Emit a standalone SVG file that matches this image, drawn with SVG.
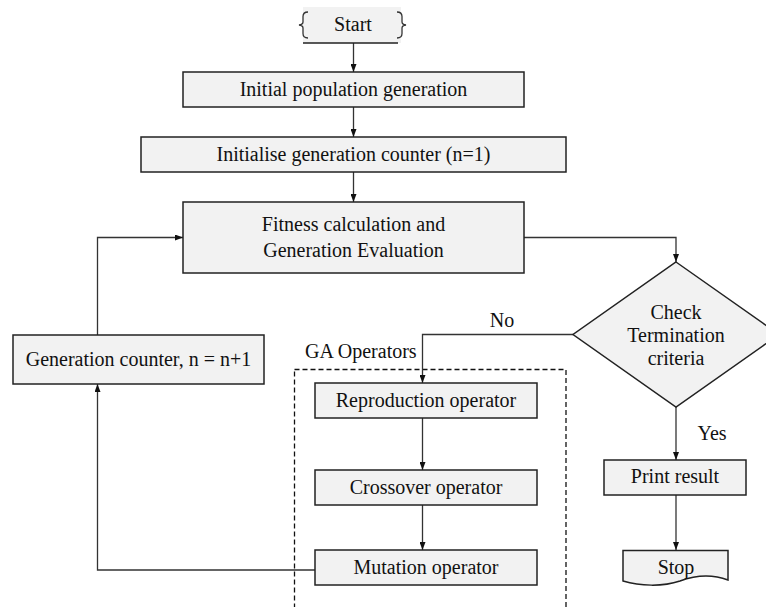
<svg xmlns="http://www.w3.org/2000/svg" width="766" height="607" viewBox="0 0 766 607">
<defs>
<marker id="ah" markerWidth="8" markerHeight="6" refX="8" refY="3" orient="auto" markerUnits="userSpaceOnUse">
<path d="M0,0 L8,3 L0,6 z" fill="#111"/>
</marker>
<style>
.box{fill:#f2f2f2;stroke:#222;stroke-width:1.5}
.t{font-family:"Liberation Serif","Times New Roman",serif;font-size:20px;fill:#111;text-anchor:middle}
.tl{font-family:"Liberation Serif","Times New Roman",serif;font-size:20px;fill:#111}
.c{fill:none;stroke:#333;stroke-width:1.3}
.ca{fill:none;stroke:#333;stroke-width:1.3;marker-end:url(#ah)}
.dash{fill:none;stroke:#111;stroke-width:1.3;stroke-dasharray:5,3}
</style>
</defs>
<rect width="766" height="607" fill="#fff"/>

<g id="ga-operators">
<rect class="dash" x="294.5" y="369.5" width="271.5" height="260"/>
<text class="tl" x="305" y="358">GA Operators</text>
</g>

<g id="connectors">
<path class="ca" d="M353.5,43 V72"/>
<path class="ca" d="M353.5,107 V137"/>
<path class="ca" d="M353.5,172 V202"/>
<path class="ca" d="M524,237.5 H676 V262"/>
<path class="ca" d="M573,334.5 H422.5 V383"/>
<path class="ca" d="M422.5,418 V470"/>
<path class="ca" d="M422.5,505 V550"/>
<path class="ca" d="M315,570 H97.5 V384"/>
<path class="ca" d="M97.5,335 V237.5 H183"/>
<path class="ca" d="M676,407 V460"/>
<path class="ca" d="M676,495 V550"/>
<text class="t" x="502" y="327">No</text>
<text class="t" x="712" y="440">Yes</text>
</g>

<g id="start">
<rect x="303" y="7" width="98" height="36" fill="#f2f2f2"/>
<path class="c" d="M308,12 Q303,12 303,16.5 L303,22 Q303,24.5 299,25 Q303,25.5 303,28 L303,33.5 Q303,38 308,38"/>
<path class="c" d="M397,12 Q402,12 402,16.5 L402,22 Q402,24.5 406,25 Q402,25.5 402,28 L402,33.5 Q402,38 397,38"/>
<path d="M303,43 H398" stroke="#222" stroke-width="1.5"/>
<text class="t" x="353" y="31">Start</text>
</g>

<g id="initial-population">
<rect class="box" x="183" y="72" width="341" height="35"/>
<text class="t" x="353.5" y="96">Initial population generation</text>
</g>

<g id="initialise-counter">
<rect class="box" x="141" y="137" width="425" height="35"/>
<text class="t" x="353.5" y="161">Initialise generation counter (n=1)</text>
</g>

<g id="fitness">
<rect class="box" x="183" y="202" width="341" height="71"/>
<text class="t" x="353.5" y="231">Fitness calculation and</text>
<text class="t" x="353.5" y="257">Generation Evaluation</text>
</g>

<g id="check-termination">
<path class="box" d="M676,262 L779,334.5 L676,407 L573,334.5 Z"/>
<text class="t" x="676" y="319">Check</text>
<text class="t" x="676" y="342">Termination</text>
<text class="t" x="676" y="365">criteria</text>
</g>

<g id="generation-counter">
<rect class="box" x="13" y="335" width="251" height="49"/>
<text class="t" x="138.5" y="366">Generation counter, n = n+1</text>
</g>

<g id="reproduction">
<rect class="box" x="315" y="383" width="222" height="35"/>
<text class="t" x="426" y="407">Reproduction operator</text>
</g>

<g id="crossover">
<rect class="box" x="315" y="470" width="222" height="35"/>
<text class="t" x="426" y="494">Crossover operator</text>
</g>

<g id="mutation">
<rect class="box" x="315" y="550" width="222" height="35"/>
<text class="t" x="426" y="574">Mutation operator</text>
</g>

<g id="print-result">
<rect class="box" x="604" y="460" width="142" height="35"/>
<text class="t" x="675" y="483">Print result</text>
</g>

<g id="stop">
<path class="box" d="M623,550.5 H728 V580 C712,574 696,575 680,581 C662,587 640,586 623,581 Z"/>
<text class="t" x="676" y="574">Stop</text>
</g>
</svg>
